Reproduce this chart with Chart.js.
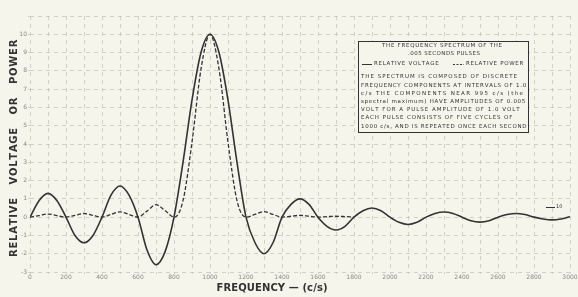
<!DOCTYPE html>
<html>
<head>
<meta charset="utf-8">
<script src="https://cdn.jsdelivr.net/npm/chart.js@4/dist/chart.umd.min.js"></script>
<style>
  html, body { margin: 0; padding: 0; background: #f6f5ec; }
  #wrap { width: 578px; height: 297px; }
</style>
</head>
<body>
<div id="wrap"><canvas id="spectrum" width="578" height="297"></canvas></div>
<script>
// frequency samples (c/s)
var freqs = [0, 50, 100, 150, 200, 250, 300, 350, 400, 450, 500, 550, 600, 650, 700, 750,
  800, 850, 900, 950, 1000, 1050, 1100, 1150, 1200, 1250, 1300, 1350, 1400, 1450, 1500,
  1550, 1600, 1650, 1700, 1750, 1800, 1850, 1900, 1950, 2000, 2050, 2100, 2150, 2200,
  2250, 2300, 2350, 2400, 2450, 2500, 2550, 2600, 2650, 2700, 2750, 2800, 2850, 2900,
  2950, 3000];

// relative voltage (solid)
var voltage = [0, 0.9, 1.3, 0.9, 0, -1.0, -1.4, -1.0, 0, 1.2, 1.7, 1.2, 0, -1.8, -2.6, -1.9,
  0, 3.0, 6.4, 9.0, 10, 9.0, 6.4, 3.0, 0, -1.4, -2.0, -1.4, 0, 0.7, 1.0,
  0.7, 0, -0.5, -0.7, -0.5, 0, 0.35, 0.5, 0.35, 0, -0.28, -0.4, -0.28, 0,
  0.2, 0.28, 0.2, 0, -0.2, -0.27, -0.2, 0, 0.14, 0.2, 0.14, 0, -0.1, -0.15,
  -0.1, 0.02];

// relative power (dashed), drawn only up to 1800 c/s
var power = [0, 0.08, 0.17, 0.08, 0, 0.1, 0.2, 0.1, 0, 0.15, 0.29, 0.15, 0, 0.33, 0.68, 0.36,
  0, 0.9, 4.1, 8.1, 10, 8.1, 4.1, 0.9, 0, 0.15, 0.3, 0.15, 0, 0.05, 0.1,
  0.05, 0, 0.03, 0.05, 0.03, 0];

var yTicks = [-3, -2, -1, 0, 1, 2, 3, 4, 5, 6, 7, 8, 9, 10];

var boxLines = [
  "THE SPECTRUM IS COMPOSED OF DISCRETE",
  "FREQUENCY COMPONENTS AT INTERVALS OF 1.0",
  "c/s THE COMPONENTS NEAR 995 c/s (the",
  "spectral maximum) HAVE AMPLITUDES OF 0.005",
  "VOLT FOR A PULSE AMPLITUDE OF 1.0 VOLT",
  "EACH PULSE CONSISTS OF FIVE CYCLES OF",
  "1000 c/s, AND IS REPEATED ONCE EACH SECOND"
];

var ink = "#333333";
var paper = "#f6f5ec";

function pts(ys) {
  var out = [];
  for (var i = 0; i < ys.length; i++) out.push({ x: freqs[i], y: ys[i] });
  return out;
}

// draws text stretched to a given width by spacing the letters
function spaced(ctx, text, x, y, width, align) {
  var nat = ctx.measureText(text).width;
  var extra = text.length > 1 ? (width - nat) / (text.length - 1) : 0;
  var full = nat + extra * (text.length - 1);
  var cx = align === "center" ? x - full / 2 : x;
  for (var i = 0; i < text.length; i++) {
    var c = text[i];
    ctx.fillText(c, cx, y);
    cx += ctx.measureText(c).width + extra;
  }
}

var decor = {
  id: "decor",
  beforeDraw: function (chart) {
    var ctx = chart.ctx;
    ctx.save();
    ctx.fillStyle = paper;
    ctx.fillRect(0, 0, chart.width, chart.height);
    ctx.restore();
  },
  afterDraw: function (chart) {
    var ctx = chart.ctx;
    ctx.save();
    ctx.fillStyle = ink;
    ctx.textBaseline = "middle";
    ctx.textAlign = "left";

    // axis titles
    ctx.font = "bold 10px 'DejaVu Sans'";
    spaced(ctx, "FREQUENCY \u2014 (c/s)", 272, 288, 111, "center");
    ctx.translate(14, 150);
    ctx.rotate(-Math.PI / 2);
    spaced(ctx, "RELATIVE   VOLTAGE   OR   POWER", 0, 0, 214, "center");
    ctx.restore();

    // note box
    ctx.save();
    var bx = 358, by = 41, bw = 170, bh = 91;
    ctx.fillStyle = paper;
    ctx.fillRect(bx, by, bw, bh);
    ctx.strokeStyle = ink;
    ctx.lineWidth = 1;
    ctx.strokeRect(bx + 0.5, by + 0.5, bw, bh);
    ctx.fillStyle = ink;
    ctx.textBaseline = "middle";
    ctx.font = "5.5px 'DejaVu Sans'";
    spaced(ctx, "THE FREQUENCY SPECTRUM OF THE", 442, 46, 120, "center");
    spaced(ctx, ".005 SECONDS PULSES", 444, 54, 72, "center");
    ctx.beginPath();
    ctx.moveTo(362, 64.5); ctx.lineTo(372, 64.5);
    ctx.stroke();
    spaced(ctx, "RELATIVE VOLTAGE", 374, 64, 63, "left");
    ctx.setLineDash([2, 1.5]);
    ctx.beginPath();
    ctx.moveTo(453, 64.5); ctx.lineTo(464, 64.5);
    ctx.stroke();
    ctx.setLineDash([]);
    spaced(ctx, "RELATIVE POWER", 466, 64, 57, "left");
    var ends = [517, 525, 523, 525, 518, 512, 526];
    var ys = [77, 86, 94, 102, 110, 118, 127];
    for (var i = 0; i < boxLines.length; i++) {
      spaced(ctx, boxLines[i], 361, ys[i], ends[i] - 361, "left");
    }

    // small "x10" marker near the right end
    ctx.beginPath();
    ctx.moveTo(546, 207.5); ctx.lineTo(555, 207.5);
    ctx.stroke();
    ctx.font = "5px 'DejaVu Sans'";
    ctx.fillText("10", 556, 207);
    ctx.restore();
  }
};

var ctx = document.getElementById("spectrum").getContext("2d");
var myChart = new Chart(ctx, {
  type: "line",
  data: {
    datasets: [
      {
        label: "RELATIVE VOLTAGE",
        data: pts(voltage),
        borderColor: ink,
        borderWidth: 1.6,
        pointRadius: 0,
        cubicInterpolationMode: "monotone",
        fill: false,
      },
      {
        label: "RELATIVE POWER",
        data: pts(power),
        borderColor: ink,
        borderWidth: 1.3,
        borderDash: [4, 2],
        pointRadius: 0,
        cubicInterpolationMode: "monotone",
        fill: false,
      },
    ],
  },
  options: {
    responsive: false,
    animation: false,
    layout: { padding: { top: 16, right: 8, left: 0, bottom: 0 } },
    plugins: {
      legend: { display: false },
      tooltip: { enabled: false },
    },
    scales: {
      x: {
        type: "linear",
        min: 0,
        max: 3000,
        afterFit: function (s) { s.height = 25; },
        afterBuildTicks: function (s) {
          var t = [];
          for (var i = 0; i <= 3000; i += 100) t.push({ value: i });
          s.ticks = t;
        },
        ticks: {
          autoSkip: false,
          maxRotation: 0,
          padding: 0,
          color: "#8a8a84",
          font: { family: "DejaVu Sans", size: 6 },
          callback: function (v) { return v % 200 === 0 ? String(v) : ""; },
        },
        grid: { color: "#c2c2b9", lineWidth: 0.7, tickLength: 2 },
        border: { display: false, dash: [4, 4] },
      },
      y: {
        min: -3,
        max: 11,
        afterFit: function (s) { s.width = 30; },
        afterBuildTicks: function (s) {
          var t = yTicks.map(function (v) { return { value: v }; });
          t.push({ value: 11 });
          s.ticks = t;
        },
        ticks: {
          padding: 1,
          color: "#8a8a84",
          font: { family: "DejaVu Sans", size: 6 },
          callback: function (v) { return v === 11 ? "" : String(v); },
        },
        grid: { color: "#c2c2b9", lineWidth: 0.7, tickLength: 2 },
        border: { display: false, dash: [4, 4] },
      },
    },
  },
  plugins: [decor],
});
</script>
</body>
</html>
